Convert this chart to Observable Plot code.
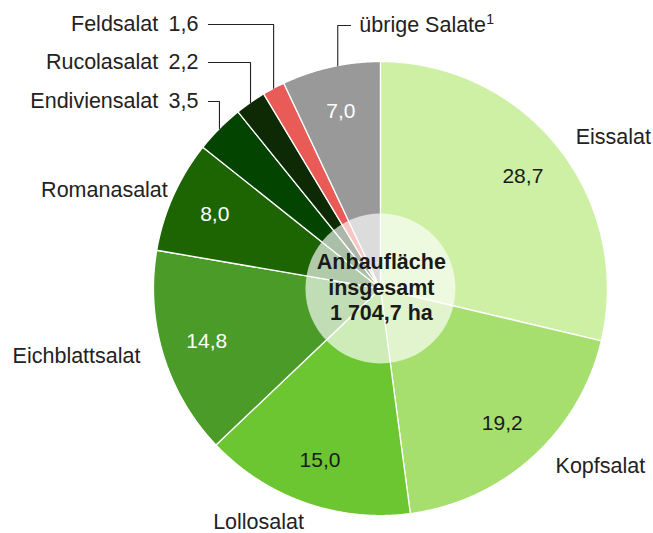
<!DOCTYPE html>
<html>
<head>
<meta charset="utf-8">
<script src="https://cdn.jsdelivr.net/npm/d3@7"></script>
<script src="https://cdn.jsdelivr.net/npm/@observablehq/plot@0.6"></script>
<style>
  html, body { margin: 0; padding: 0; background: #fff; }
  #chart svg { display: block; }
</style>
</head>
<body>
<div id="chart"></div>
<script>
// ---- data ----
const names = ["Eissalat", "Kopfsalat", "Lollosalat", "Eichblattsalat", "Romanasalat", "Endiviensalat", "Rucolasalat", "Feldsalat", "übrige Salate"];
const values = [28.7, 19.2, 15.0, 14.8, 8.0, 3.5, 2.2, 1.6, 7.0];
const centerLines = ["Anbaufläche", "insgesamt", "1 704,7 ha"];
const footnoteMark = "1";

// ---- styles ----
const colors = ["#cdf0a5", "#a6df6e", "#6cc631", "#4a9b27", "#1d6503", "#034400", "#0e2a04", "#e85b57", "#999999"];
const valueTextColors = ["#1a1a1a", "#1a1a1a", "#1a1a1a", "#ffffff", "#ffffff", null, null, null, "#ffffff"];
const FONT = "'Liberation Sans', Arial, sans-serif";

// outer label layout (unit-circle coordinates, radius = 1)
const outerLabels = {
  "Eissalat": {x: 1.026, y: 0.665},
  "Kopfsalat": {x: 0.969, y: -0.784},
  "Lollosalat": {x: -0.537, y: -1.029},
  "Eichblattsalat": {x: -1.339, y: -0.298},
  "Romanasalat": {x: -1.216, y: 0.432}
};
// leader-line labels (small slices), unit coords of label row
const leaderLabels = {
  "Endiviensalat": {y: 0.824, side: "left"},
  "Rucolasalat": {y: 0.996, side: "left"},
  "Feldsalat": {y: 1.163, side: "left"},
  "übrige Salate": {y: 1.159, side: "right"}
};

// ---- geometry from values ----
const total = d3.sum(values);
const slices = [];
let acc = 0;
values.forEach((v, i) => {
  const a0 = acc / total * 2 * Math.PI;
  acc += v;
  const a1 = acc / total * 2 * Math.PI;
  slices.push({name: names[i], value: v, a0, a1, mid: (a0 + a1) / 2, i});
});

const polyPts = [];
for (const s of slices) {
  polyPts.push({name: s.name, x: 0, y: 0});
  const n = Math.max(2, Math.ceil((s.a1 - s.a0) / 0.005));
  for (let k = 0; k <= n; k++) {
    const a = s.a0 + (s.a1 - s.a0) * k / n;
    polyPts.push({name: s.name, x: Math.sin(a), y: Math.cos(a)});
  }
  polyPts.push({name: s.name, x: 0, y: 0});
}

const fmt = v => v.toFixed(1).replace(".", ",");

// value labels inside slices
const inside = slices.filter(s => valueTextColors[s.i]).map(s => ({
  x: 0.80 * Math.sin(s.mid), y: 0.80 * Math.cos(s.mid), text: fmt(s.value), color: valueTextColors[s.i]
}));

// outer labels
const outer = slices.filter(s => outerLabels[s.name]).map(s => ({
  ...outerLabels[s.name], text: s.name
}));

// leader labels + lines
const leaderLeft = [];
const leaderRight = [];
const leaderLines = [];
for (const s of slices) {
  const L = leaderLabels[s.name];
  if (!L) continue;
  const xm = Math.sin(s.mid), ym = Math.cos(s.mid);
  if (L.side === "left") {
    leaderLeft.push({x: -0.802, y: L.y, text: s.name + "\u2009 " + fmt(s.value)});
    leaderLines.push({id: s.name, x: -0.758, y: L.y});
    leaderLines.push({id: s.name, x: xm, y: L.y});
    leaderLines.push({id: s.name, x: xm, y: ym});
  } else {
    const xv = xm + 0.03;
    leaderRight.push({x: -0.093, y: L.y, text: s.name});
    leaderLines.push({id: s.name, x: -0.132, y: L.y});
    leaderLines.push({id: s.name, x: xv, y: L.y});
    leaderLines.push({id: s.name, x: xv, y: Math.sqrt(1 - xv * xv)});
  }
}

const chart = Plot.plot({
  width: 653,
  height: 533,
  margin: 0,
  x: {domain: [-1.674, 1.203], axis: null},
  y: {domain: [-1.079, 1.269], axis: null},
  color: {domain: names, range: colors},
  style: {fontFamily: FONT, background: "#fff"},
  marks: [
    Plot.line(polyPts, {x: "x", y: "y", z: "name", fill: "name", stroke: "#ffffff", strokeWidth: 1.3, strokeLinejoin: "round", curve: "linear"}),
    Plot.dot([{x: 0, y: 0}], {x: "x", y: "y", r: 75, fill: "#ffffff", fillOpacity: 0.66, stroke: "none"}),
    Plot.line(leaderLines, {x: "x", y: "y", z: "id", stroke: "#222", strokeWidth: 1.1}),
    Plot.text(inside, {x: "x", y: "y", text: "text", fill: "color", fontSize: 21}),
    Plot.text(outer, {x: "x", y: "y", text: "text", fill: "#222", fontSize: 21.5, textAnchor: "middle"}),
    Plot.text(leaderLeft, {x: "x", y: "y", text: "text", fill: "#222", fontSize: 21.5, textAnchor: "end"}),
    Plot.text(leaderRight, {x: "x", y: "y", text: "text", fill: "#222", fontSize: 21.5, textAnchor: "start"}),
    Plot.text([footnoteMark], {x: () => 0.466, y: () => 1.184, text: d => d, fill: "#222", fontSize: 14, textAnchor: "start"}),
    Plot.text([centerLines.join("\n")], {x: () => 0.004, y: () => 0.009, text: d => d, fill: "#1a1a1a", fontSize: 21.5, fontWeight: "bold", lineHeight: 1.17})
  ]
});
document.getElementById("chart").appendChild(chart);
</script>
</body>
</html>
